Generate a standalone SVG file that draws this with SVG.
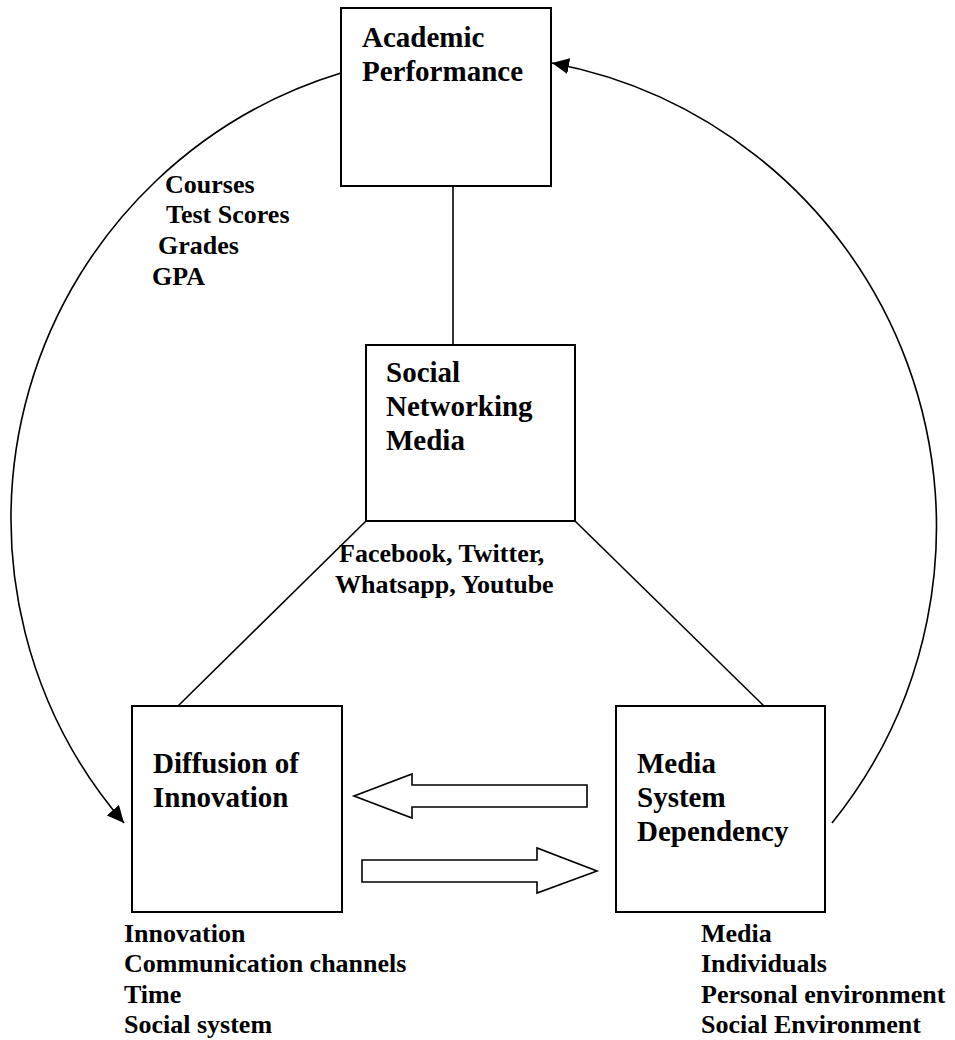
<svg xmlns="http://www.w3.org/2000/svg" width="955" height="1040" viewBox="0 0 955 1040">
<style>
.box{fill:#fff;stroke:#000;stroke-width:2}
.ln{fill:none;stroke:#000;stroke-width:1.6}
.blk{fill:#fff;stroke:#000;stroke-width:1.6;stroke-linejoin:miter}
.t{font-family:"Liberation Serif","Times New Roman",serif;font-weight:bold;font-size:29px;fill:#000}
.l{font-family:"Liberation Serif","Times New Roman",serif;font-weight:bold;font-size:26px;fill:#000}
</style>
<defs>
<marker id="ah" markerUnits="userSpaceOnUse" markerWidth="18" markerHeight="16" refX="17" refY="8" orient="auto">
<path d="M0,0 L17,8 L0,16 z" fill="#000"/>
</marker>
</defs>
<rect width="955" height="1040" fill="#fff"/>
<g id="connectors">
<line class="ln" x1="453" y1="186" x2="453" y2="345"/>
<line class="ln" x1="366" y1="521" x2="178" y2="706"/>
<line class="ln" x1="575" y1="521" x2="764" y2="706"/>
<path class="ln" d="M341,73 A466,466 0 0 0 124,823" marker-end="url(#ah)"/>
<path class="ln" d="M832,823 A472,472 0 0 0 552,63" marker-end="url(#ah)"/>
<polygon class="blk" points="354,796 412,774 412,785 587,785 587,807 412,807 412,818"/>
<polygon class="blk" points="362,860 537,860 537,848 597,871 537,893 537,882 362,882"/>
</g>
<g id="academic">
<rect class="box" x="341" y="8" width="210" height="178"/>
<text class="t" x="362" y="47">Academic</text>
<text class="t" x="362" y="81">Performance</text>
</g>
<g id="social">
<rect class="box" x="366" y="345" width="209" height="176"/>
<text class="t" x="386" y="382">Social</text>
<text class="t" x="386" y="416">Networking</text>
<text class="t" x="386" y="450">Media</text>
</g>
<g id="diffusion">
<rect class="box" x="132" y="706" width="210" height="206"/>
<text class="t" x="153" y="773">Diffusion of</text>
<text class="t" x="153" y="807">Innovation</text>
</g>
<g id="msd">
<rect class="box" x="616" y="706" width="209" height="206"/>
<text class="t" x="637" y="773">Media</text>
<text class="t" x="637" y="807">System</text>
<text class="t" x="637" y="841">Dependency</text>
</g>
<g id="labels">
<text class="l" x="165" y="193">Courses</text>
<text class="l" x="166" y="223">Test Scores</text>
<text class="l" x="158" y="254">Grades</text>
<text class="l" x="152" y="285">GPA</text>
<text class="l" x="339" y="562">Facebook, Twitter,</text>
<text class="l" x="335" y="593">Whatsapp, Youtube</text>
<text class="l" x="124" y="942">Innovation</text>
<text class="l" x="124" y="972">Communication channels</text>
<text class="l" x="124" y="1003">Time</text>
<text class="l" x="124" y="1033">Social system</text>
<text class="l" x="701" y="942">Media</text>
<text class="l" x="701" y="972">Individuals</text>
<text class="l" x="701" y="1003">Personal environment</text>
<text class="l" x="701" y="1033">Social Environment</text>
</g>
</svg>
